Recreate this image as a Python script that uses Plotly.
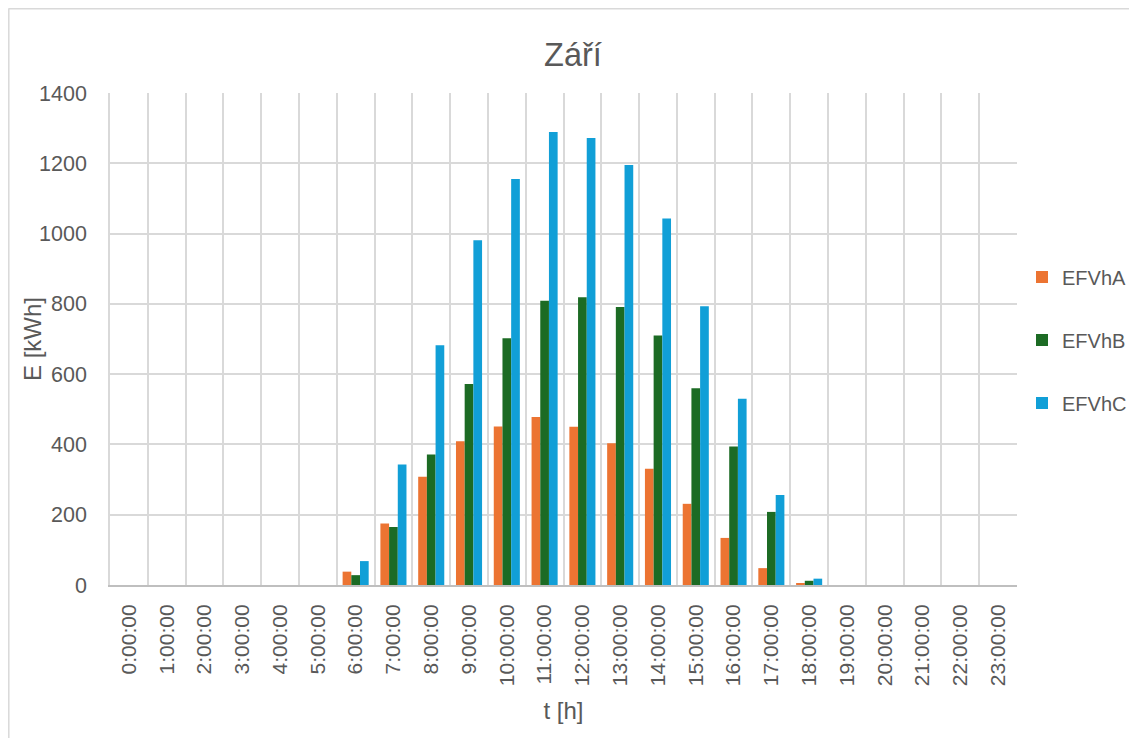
import plotly.graph_objects as go

hours = [f"{h}:00:00" for h in range(24)]
efvha = [0, 0, 0, 0, 0, 0, 38, 175, 308, 409, 451, 478, 450, 403, 331, 231, 134, 48, 4, 0, 0, 0, 0, 0]
efvhb = [0, 0, 0, 0, 0, 0, 28, 165, 371, 572, 702, 809, 819, 791, 710, 560, 394, 208, 12, 0, 0, 0, 0, 0]
efvhc = [0, 0, 0, 0, 0, 0, 68, 343, 682, 981, 1155, 1289, 1272, 1195, 1043, 793, 530, 256, 18, 0, 0, 0, 0, 0]

TXT = "#595959"
FONT = "Liberation Sans, Arial, sans-serif"

fig = go.Figure()
for name, vals, col in [("EFVhA", efvha, "#EC7432"),
                        ("EFVhB", efvhb, "#1C6B24"),
                        ("EFVhC", efvhc, "#119FD7")]:
    fig.add_trace(go.Bar(x=hours, y=vals, name=name, marker_color=col,
                         marker_line_width=0, legendgroup=name))

# page has an 8px body margin: figure coords = page coords - 8
OFF = 8
FW, FH = 1137 - OFF, 738 - OFF
L, T = 110 - OFF, 93 - OFF
R = FW - (1017 - OFF)
B = FH - (585 - OFF)
W, H = FW - L - R, FH - T - B

def px(xp):  # page x -> paper
    return (xp - OFF - L) / W

def py(yp):  # page y -> paper
    return (FH - B - (yp - OFF)) / H

fig.update_layout(
    width=FW, height=FH,
    margin=dict(l=L, r=R, t=T, b=B, autoexpand=False),
    paper_bgcolor="white", plot_bgcolor="white",
    barmode="group", bargap=0.31, bargroupgap=0,
    font=dict(family=FONT, color=TXT, size=21),
    title=dict(text="Září", x=(573 - OFF) / FW, xref="container",
               y=1 - (55 - OFF) / FH, yref="container",
               xanchor="center", yanchor="middle",
               font=dict(size=32.5, color=TXT, family=FONT)),
    legend=dict(x=px(1022), xanchor="left", y=py(340), yanchor="middle",
                font=dict(size=20, color=TXT), tracegroupgap=34,
                bgcolor="rgba(0,0,0,0)"),
    xaxis=dict(type="category", tickson="boundaries", ticks="",
               showgrid=True, gridcolor="#D9D9D9", gridwidth=1.5,
               tickangle=-90, tickfont=dict(size=21, color=TXT),
               ticklabelstandoff=9, automargin=False,
               showline=True, linecolor="#BFBFBF", linewidth=2,
               title=dict(text="t [h]", font=dict(size=24, color=TXT), standoff=17),
               zeroline=False),
    yaxis=dict(range=[0, 1400], dtick=200, showgrid=True, gridcolor="#D9D9D9",
               gridwidth=1.5, ticks="", ticklabelstandoff=17, automargin=False,
               tickfont=dict(size=21.5, color=TXT), zeroline=False,
               showline=True, linecolor="#D9D9D9", linewidth=1.5),
)

# y-axis title placed to match the reference position
fig.add_annotation(text="E [kWh]", xref="paper", yref="paper",
                   x=px(32), y=py(339), xanchor="center", yanchor="middle",
                   textangle=-90, showarrow=False,
                   font=dict(size=24, color=TXT, family=FONT))

# chart outer border (top and left edges visible)
fig.add_shape(type="line", xref="paper", yref="paper",
              x0=px(8.5), x1=px(1140), y0=py(8.8), y1=py(8.8),
              line=dict(color="#D9D9D9", width=1.5))
fig.add_shape(type="line", xref="paper", yref="paper",
              x0=px(8.8), x1=px(8.8), y0=py(8.5), y1=py(745),
              line=dict(color="#D9D9D9", width=1.5))

fig.write_html("out.html")
